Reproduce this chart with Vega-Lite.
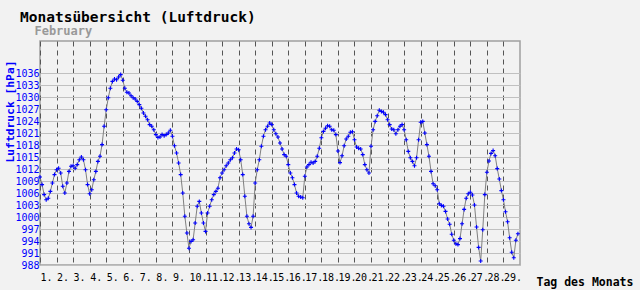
{
  "$schema": "https://vega.github.io/schema/vega-lite/v6.json",
  "width": 480,
  "height": 224,
  "autosize": {"type": "none"},
  "padding": {"left": 40, "top": 41, "right": 120, "bottom": 25},
  "background": "#f2f2f2",
  "title": {
    "text": "Monatsübersicht (Luftdruck)",
    "subtitle": "\u200b\u00a0\u00a0February",
    "anchor": "start",
    "frame": "group",
    "dx": -20,
    "offset": 3,
    "font": "DejaVu Sans Mono",
    "fontSize": 14.5,
    "fontWeight": "bold",
    "color": "#000000",
    "subtitleFont": "DejaVu Sans Mono",
    "subtitleFontSize": 12,
    "subtitleFontWeight": "bold",
    "subtitleColor": "#999999",
    "subtitlePadding": 1
  },
  "config": {
    "view": {"stroke": "#a0a0a0", "strokeWidth": 1.5},
    "axis": {"domain": false, "ticks": false, "tickSize": 0}
  },
  "data": {"values": [
    {"d":1,"p":1010.0},{"d":1.125,"p":1008.1},{"d":1.25,"p":1005.6},{"d":1.375,"p":1004.3},{"d":1.5,"p":1004.7},{"d":1.625,"p":1006.4},{"d":1.75,"p":1008.5},{"d":1.875,"p":1010.6},
    {"d":2,"p":1011.8},{"d":2.125,"p":1012.2},{"d":2.25,"p":1011.0},{"d":2.375,"p":1007.7},{"d":2.5,"p":1006.0},{"d":2.625,"p":1008.5},{"d":2.75,"p":1011.4},{"d":2.875,"p":1012.7},
    {"d":3,"p":1012.8},{"d":3.125,"p":1012.2},{"d":3.25,"p":1013.1},{"d":3.375,"p":1014.3},{"d":3.5,"p":1015.0},{"d":3.625,"p":1014.3},{"d":3.75,"p":1011.8},{"d":3.875,"p":1008.1},
    {"d":4,"p":1005.8},{"d":4.125,"p":1006.8},{"d":4.25,"p":1009.3},{"d":4.375,"p":1011.4},{"d":4.5,"p":1013.9},{"d":4.625,"p":1015.2},{"d":4.75,"p":1018.1},{"d":4.875,"p":1022.7},
    {"d":5,"p":1026.8},{"d":5.125,"p":1029.8},{"d":5.25,"p":1032.2},{"d":5.375,"p":1033.9},{"d":5.5,"p":1034.5},{"d":5.625,"p":1034.3},{"d":5.75,"p":1035.0},{"d":5.875,"p":1035.6},
    {"d":6,"p":1034.2},{"d":6.125,"p":1032.2},{"d":6.25,"p":1031.2},{"d":6.375,"p":1031.0},{"d":6.5,"p":1030.3},{"d":6.625,"p":1029.8},{"d":6.75,"p":1029.5},{"d":6.875,"p":1028.9},
    {"d":7,"p":1028.1},{"d":7.125,"p":1027.2},{"d":7.25,"p":1026.0},{"d":7.375,"p":1025.2},{"d":7.5,"p":1024.3},{"d":7.625,"p":1023.1},{"d":7.75,"p":1022.7},{"d":7.875,"p":1021.8},
    {"d":8,"p":1020.6},{"d":8.125,"p":1019.9},{"d":8.25,"p":1020.0},{"d":8.375,"p":1020.6},{"d":8.5,"p":1020.3},{"d":8.625,"p":1020.6},{"d":8.75,"p":1021.0},{"d":8.875,"p":1021.7},
    {"d":9,"p":1020.2},{"d":9.125,"p":1017.8},{"d":9.25,"p":1016.0},{"d":9.375,"p":1013.5},{"d":9.5,"p":1010.6},{"d":9.625,"p":1006.0},{"d":9.75,"p":1000.2},{"d":9.875,"p":996.0},
    {"d":10,"p":992.2},{"d":10.125,"p":993.9},{"d":10.25,"p":994.3},{"d":10.375,"p":998.5},{"d":10.5,"p":1002.7},{"d":10.625,"p":1003.9},{"d":10.75,"p":1001.0},{"d":10.875,"p":998.5},
    {"d":11,"p":996.4},{"d":11.125,"p":1001.0},{"d":11.25,"p":1002.7},{"d":11.375,"p":1004.3},{"d":11.5,"p":1005.6},{"d":11.625,"p":1006.4},{"d":11.75,"p":1007.2},{"d":11.875,"p":1009.8},
    {"d":12,"p":1011.0},{"d":12.125,"p":1011.8},{"d":12.25,"p":1012.8},{"d":12.375,"p":1013.5},{"d":12.5,"p":1014.3},{"d":12.625,"p":1014.8},{"d":12.75,"p":1016.0},{"d":12.875,"p":1017.0},
    {"d":13,"p":1016.8},{"d":13.125,"p":1014.3},{"d":13.25,"p":1010.6},{"d":13.375,"p":1005.2},{"d":13.5,"p":1000.2},{"d":13.625,"p":998.3},{"d":13.75,"p":997.4},{"d":13.875,"p":1000.2},
    {"d":14,"p":1008.5},{"d":14.125,"p":1011.8},{"d":14.25,"p":1014.3},{"d":14.375,"p":1017.7},{"d":14.5,"p":1020.2},{"d":14.625,"p":1021.8},{"d":14.75,"p":1022.7},{"d":14.875,"p":1023.5},
    {"d":15,"p":1023.1},{"d":15.125,"p":1021.8},{"d":15.25,"p":1020.8},{"d":15.375,"p":1020.0},{"d":15.5,"p":1018.5},{"d":15.625,"p":1017.0},{"d":15.75,"p":1015.6},{"d":15.875,"p":1015.2},
    {"d":16,"p":1013.1},{"d":16.125,"p":1011.0},{"d":16.25,"p":1009.8},{"d":16.375,"p":1008.1},{"d":16.5,"p":1006.0},{"d":16.625,"p":1005.2},{"d":16.75,"p":1005.0},{"d":16.875,"p":1004.8},
    {"d":17,"p":1010.2},{"d":17.125,"p":1012.5},{"d":17.25,"p":1013.1},{"d":17.375,"p":1013.7},{"d":17.5,"p":1013.5},{"d":17.625,"p":1013.9},{"d":17.75,"p":1015.2},{"d":17.875,"p":1017.2},
    {"d":18,"p":1019.8},{"d":18.125,"p":1021.4},{"d":18.25,"p":1022.2},{"d":18.375,"p":1022.8},{"d":18.5,"p":1022.7},{"d":18.625,"p":1021.8},{"d":18.75,"p":1021.7},{"d":18.875,"p":1020.6},
    {"d":19,"p":1016.5},{"d":19.125,"p":1013.6},{"d":19.25,"p":1015.3},{"d":19.375,"p":1017.8},{"d":19.5,"p":1019.5},{"d":19.625,"p":1020.2},{"d":19.75,"p":1021.2},{"d":19.875,"p":1021.3},
    {"d":20,"p":1019.3},{"d":20.125,"p":1017.5},{"d":20.25,"p":1017.2},{"d":20.375,"p":1017.0},{"d":20.5,"p":1015.6},{"d":20.625,"p":1013.1},{"d":20.75,"p":1011.8},{"d":20.875,"p":1011.0},
    {"d":21,"p":1017.7},{"d":21.125,"p":1021.8},{"d":21.25,"p":1023.9},{"d":21.375,"p":1025.3},{"d":21.5,"p":1026.7},{"d":21.625,"p":1026.4},{"d":21.75,"p":1026.2},{"d":21.875,"p":1025.6},
    {"d":22,"p":1024.3},{"d":22.125,"p":1023.1},{"d":22.25,"p":1022.0},{"d":22.375,"p":1021.8},{"d":22.5,"p":1020.8},{"d":22.625,"p":1021.8},{"d":22.75,"p":1022.7},{"d":22.875,"p":1023.1},
    {"d":23,"p":1021.8},{"d":23.125,"p":1019.3},{"d":23.25,"p":1016.4},{"d":23.375,"p":1014.8},{"d":23.5,"p":1013.9},{"d":23.625,"p":1012.8},{"d":23.75,"p":1014.8},{"d":23.875,"p":1019.3},
    {"d":24,"p":1023.7},{"d":24.125,"p":1023.9},{"d":24.25,"p":1021.0},{"d":24.375,"p":1018.1},{"d":24.5,"p":1015.2},{"d":24.625,"p":1011.4},{"d":24.75,"p":1008.3},{"d":24.875,"p":1007.8},
    {"d":25,"p":1006.8},{"d":25.125,"p":1003.3},{"d":25.25,"p":1002.9},{"d":25.375,"p":1002.7},{"d":25.5,"p":1001.4},{"d":25.625,"p":999.5},{"d":25.75,"p":998.2},{"d":25.875,"p":995.7},
    {"d":26,"p":994.2},{"d":26.125,"p":993.3},{"d":26.25,"p":993.1},{"d":26.375,"p":994.6},{"d":26.5,"p":998.3},{"d":26.625,"p":1001.9},{"d":26.75,"p":1004.7},{"d":26.875,"p":1005.8},
    {"d":27,"p":1006.2},{"d":27.125,"p":1005.5},{"d":27.25,"p":1003.0},{"d":27.375,"p":997.5},{"d":27.5,"p":992.4},{"d":27.625,"p":989.0},{"d":27.75,"p":996.8},{"d":27.875,"p":1005.6},
    {"d":28,"p":1011.2},{"d":28.125,"p":1014.0},{"d":28.25,"p":1015.9},{"d":28.375,"p":1016.6},{"d":28.5,"p":1015.3},{"d":28.625,"p":1012.1},{"d":28.75,"p":1009.5},{"d":28.875,"p":1006.6},
    {"d":29,"p":1004.3},{"d":29.125,"p":1001.3},{"d":29.25,"p":998.8},{"d":29.375,"p":994.8},{"d":29.5,"p":991.2},{"d":29.625,"p":989.8},{"d":29.75,"p":994.2},{"d":29.875,"p":995.8}
  ]},
  "encoding": {
    "x": {
      "field": "d",
      "type": "quantitative",
      "scale": {"domain": [1, 30], "nice": false, "zero": false},
      "axis": {
        "title": "Tag des Monats",
        "titleFont": "DejaVu Sans Mono",
        "titleFontSize": 11.5,
        "titleFontWeight": "bold",
        "titleColor": "#000000",
        "titleAlign": "left",
        "titleBaseline": "alphabetic",
        "titleX": 496,
        "titleY": 20,
        "values": [1,2,3,4,5,6,7,8,9,10,11,12,13,14,15,16,17,18,19,20,21,22,23,24,25,26,27,28,29],
        "labelExpr": "datum.value + '.'",
        "labelFont": "DejaVu Sans Mono",
        "labelFontSize": 10,
        "labelColor": "#000000",
        "labelAlign": "left",
        "labelDx": -3,
        "labelBaseline": "alphabetic",
        "labelPadding": 15.5,
        "labelOverlap": false,
        "labelFlush": false,
        "labelBound": false,
        "grid": true,
        "gridColor": "#555555",
        "gridDash": [5, 4],
        "gridWidth": 1,
        "gridOpacity": 1
      }
    },
    "y": {
      "field": "p",
      "type": "quantitative",
      "scale": {"domain": [988, 1044], "nice": false, "zero": false},
      "axis": {
        "title": "Luftdruck [hPa]",
        "titleFont": "DejaVu Sans Mono",
        "titleFontSize": 11.3,
        "titleFontWeight": "bold",
        "titleColor": "#0000ff",
        "titleAngle": 270,
        "titleAlign": "center",
        "titleBaseline": "alphabetic",
        "titleX": -27,
        "titleY": 70,
        "values": [988,991,994,997,1000,1003,1006,1009,1012,1015,1018,1021,1024,1027,1030,1033,1036],
        "format": "d",
        "labelFont": "DejaVu Sans Mono",
        "labelFontSize": 10,
        "labelColor": "#0000ff",
        "labelPadding": 1,
        "labelOverlap": false,
        "labelFlush": false,
        "labelBound": false,
        "grid": true,
        "gridColor": "#c0c0c0",
        "gridWidth": 1,
        "gridOpacity": 1
      }
    }
  },
  "layer": [
    {"mark": {"type": "line", "color": "#808080", "strokeWidth": 1}},
    {"mark": {"type": "point", "shape": "M-1,0H1M0,-1V1", "size": 16, "filled": false, "stroke": "#0000ff", "strokeWidth": 1.1, "opacity": 1}}
  ]
}
